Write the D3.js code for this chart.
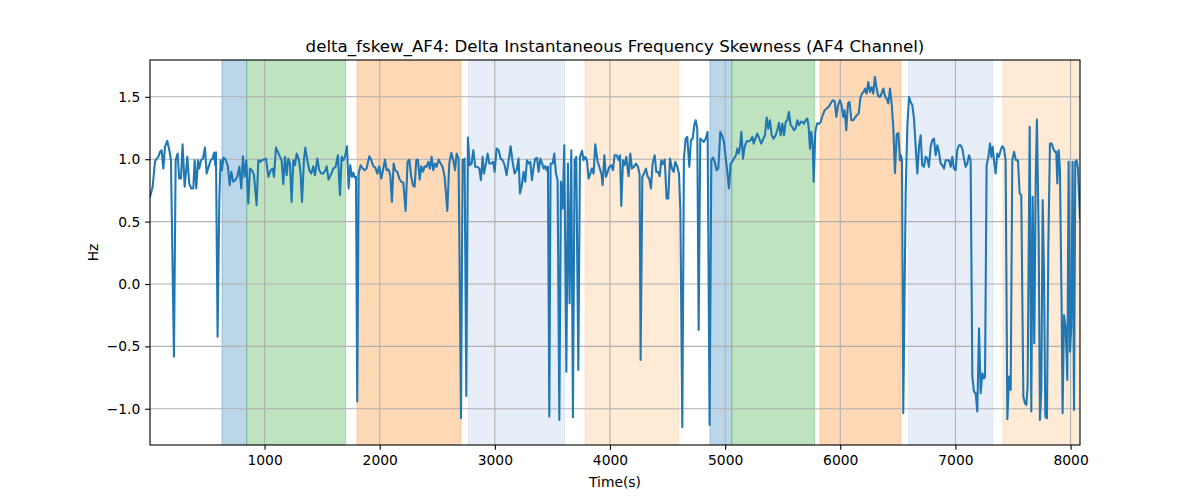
<!DOCTYPE html>
<html><head><meta charset="utf-8">
<script src="https://cdn.jsdelivr.net/npm/d3@7"></script>
<style>body{margin:0;background:#fff} svg{display:block} text{font-family:"DejaVu Sans",sans-serif;fill:#000}</style>
</head><body><svg id="c" width="1200" height="500"></svg>
<script>
const samples = [
[5,0.70],[28,0.779],[48,0.979],[63,1.005],[77,1.019],[92,1.059],[106,1.072],[121,0.925],[135,1.099],[155,1.147],[173,1.072],[187,0.992],[213,-0.582],[228,0.992],[245,1.045],[259,0.845],[274,0.845],[288,1.120],[306,0.779],[329,1.019],[346,0.805],[364,0.765],[381,0.765],[393,0.992],[407,0.765],[422,0.992],[433,0.925],[448,0.992],[465,1.005],[482,1.093],[497,0.885],[514,0.939],[532,0.992],[549,1.005],[561,1.051],[572,0.952],[578,1.056],[592,-0.422],[607,0.672],[618,0.992],[630,0.912],[642,1.013],[665,0.992],[682,0.939],[697,0.792],[711,0.899],[728,0.819],[746,0.832],[763,0.859],[781,0.939],[798,0.765],[812,1.024],[827,0.859],[841,0.992],[859,0.645],[873,0.925],[891,0.912],[908,0.872],[931,0.632],[946,0.992],[960,0.979],[977,0.992],[995,0.997],[1012,1.005],[1033,0.859],[1053,0.912],[1070,0.925],[1082,0.859],[1099,1.093],[1116,1.059],[1134,1.019],[1148,0.992],[1163,0.800],[1177,1.019],[1192,0.872],[1206,1.005],[1221,0.965],[1235,0.658],[1250,0.992],[1264,0.952],[1279,1.045],[1299,0.992],[1313,0.885],[1325,0.658],[1342,0.992],[1354,1.093],[1371,0.992],[1389,0.912],[1406,0.885],[1423,0.944],[1438,0.872],[1458,1.005],[1475,0.912],[1493,0.885],[1510,0.885],[1528,0.912],[1539,0.944],[1556,0.837],[1580,0.885],[1597,0.925],[1617,0.939],
[1637,1.032],[1655,0.712],[1669,1.019],[1684,0.992],[1698,1.019],[1716,1.104],[1730,0.765],[1744,0.952],[1759,0.859],[1771,0.891],[1782,0.853],[1794,0.859],[1805,-0.942],[1817,0.885],[1834,0.952],[1852,0.925],[1869,0.912],[1886,0.925],[1910,1.024],[1927,0.992],[1944,0.944],[1962,0.933],[1979,0.885],[1996,0.944],[2014,0.845],[2028,0.912],[2046,0.997],[2060,0.912],[2077,0.917],[2092,0.872],[2106,0.658],[2121,0.965],[2135,0.912],[2153,0.899],[2170,0.845],[2187,0.819],[2205,0.811],[2225,0.586],[2242,0.979],[2257,0.997],[2274,0.859],[2289,0.792],[2303,0.779],[2318,0.992],[2332,0.997],[2347,0.837],[2361,0.944],[2376,0.899],[2390,0.944],[2407,0.939],[2422,0.979],[2436,0.925],[2451,1.019],[2465,0.912],[2480,0.965],[2494,0.939],[2512,0.997],[2529,0.965],[2546,0.939],[2564,0.859],[2587,0.586],[2604,0.965],[2622,1.051],[2639,0.992],[2654,0.912],[2668,1.045],[2685,1.005],[2706,-1.076],[2720,0.992],[2737,1.005],[2752,-0.897],[2766,1.173],[2781,0.952],[2798,0.965],[2813,1.072],[2830,0.939],[2847,0.939],[2865,0.925],[2879,0.832],[2894,1.019],[2905,0.885],[2923,0.965],[2937,1.045],[2952,0.965],[2969,0.965],[2986,0.979],[2998,0.899],[3015,1.085],[3033,1.072],[3050,1.005],[3068,0.992],[3085,0.952],[3102,0.872],[3120,0.992],[3137,1.104],[3154,0.979],[3172,0.885],[3189,0.912],[3206,1.005],[3218,0.725],[3232,0.779],
[3250,0.899],[3264,0.819],[3279,0.992],[3293,0.965],[3308,0.979],[3322,0.832],[3337,0.939],[3351,1.005],[3366,1.011],[3380,0.899],[3395,1.005],[3409,0.971],[3424,0.925],[3438,0.944],[3450,0.912],[3461,0.939],[3473,-1.062],[3484,0.965],[3502,0.965],[3516,1.045],[3531,0.885],[3545,0.832],[3560,-1.089],[3574,0.819],[3589,0.605],[3603,1.112],[3621,-0.702],[3635,0.965],[3649,-0.155],[3664,1.072],[3678,-1.068],[3693,0.992],[3707,1.019],[3725,-0.689],[3739,1.019],[3757,1.067],[3771,0.992],[3786,1.019],[3800,0.992],[3814,0.845],[3829,0.885],[3843,0.925],[3858,0.885],[3872,1.120],[3890,0.992],[3907,0.939],[3925,0.885],[3936,0.792],[3951,1.032],[3965,0.859],[3980,0.899],[3994,0.939],[4011,0.952],[4026,0.912],[4040,1.032],[4058,1.032],[4075,0.992],[4087,1.032],[4098,0.626],[4113,0.992],[4127,0.952],[4142,1.019],[4153,0.925],[4162,0.864],[4176,1.045],[4191,0.925],[4208,0.939],[4226,0.965],[4243,0.939],[4257,0.880],[4266,-0.609],[4281,0.859],[4295,0.885],[4312,0.925],[4327,0.859],[4341,0.845],[4356,0.765],[4370,0.965],[4388,1.032],[4402,0.899],[4417,0.899],[4431,0.864],[4446,0.992],[4457,0.960],[4475,0.997],[4492,0.685],[4506,0.685],[4521,1.005],[4538,0.925],[4553,0.899],[4567,0.979],[4585,0.939],[4599,0.885],[4611,0.592],[4628,-1.148],[4642,1.005],[4657,1.165],[4671,1.179],[4689,0.939],[4703,1.152],[4718,1.165],[4732,1.272],[4744,1.312],[4758,1.245],[4770,-0.369],[4784,1.165],[4799,1.152],[4816,1.139],[4831,1.165],[4848,1.219],
[4865,-1.129],[4880,0.992],[4894,1.013],[4909,0.979],[4926,0.912],[4941,0.925],[4958,1.219],[4973,1.192],[4990,1.139],[5004,1.019],[5019,0.899],[5033,0.765],[5048,0.965],[5062,0.979],[5077,1.005],[5094,1.032],[5106,1.085],[5117,1.045],[5129,1.099],[5141,1.219],[5155,1.005],[5169,1.099],[5187,1.144],[5204,1.144],[5222,1.152],[5236,1.179],[5248,1.125],[5262,1.165],[5279,1.205],[5297,1.165],[5314,1.125],[5332,1.165],[5346,1.192],[5361,1.334],[5375,1.245],[5389,1.312],[5404,1.192],[5421,1.165],[5439,1.192],[5453,1.232],[5468,1.291],[5482,1.192],[5497,1.285],[5511,1.192],[5526,1.299],[5540,1.312],[5554,1.379],[5569,1.272],[5583,1.259],[5598,1.232],[5612,1.245],[5627,1.312],[5641,1.272],[5656,1.299],[5670,1.299],[5685,1.285],[5699,1.312],[5714,1.326],[5725,1.259],[5737,1.085],[5748,1.219],[5760,1.125],[5769,0.819],[5783,1.219],[5798,1.285],[5815,1.285],[5830,1.299],[5847,1.352],[5864,1.392],[5882,1.406],[5899,1.419],[5916,1.446],[5934,1.472],[5951,1.467],[5966,1.339],[5980,1.432],[5997,1.472],[6012,1.432],[6026,1.339],[6038,1.392],[6052,1.232],[6067,1.446],[6081,1.459],[6096,1.312],[6113,1.312],[6128,1.334],[6142,1.352],[6160,1.366],[6174,1.486],[6188,1.526],[6203,1.539],[6215,1.566],[6229,1.526],[6243,1.619],[6258,1.539],[6272,1.579],[6287,1.526],[6301,1.659],[6316,1.566],[6330,1.504],[6345,1.499],[6359,1.526],[6374,1.566],[6388,1.504],[6403,1.486],[6417,1.446],[6432,1.566],[6446,1.446],
[6460,1.26],[6475,0.89],[6490,1.20],[6504,1.21],[6519,0.99],[6527,1.03],[6536,0.99],[6547,-1.036],
[6568,0.725],[6582,1.259],[6597,1.499],[6611,1.459],[6626,1.432],[6640,1.326],[6655,1.099],[6669,0.885],[6684,1.099],[6698,1.192],[6712,0.952],[6727,0.939],[6741,1.019],[6756,1.005],[6770,0.939],[6785,1.099],[6799,1.152],[6814,1.165],[6828,1.032],[6843,1.112],[6857,1.059],[6872,0.965],[6886,0.952],[6901,0.925],[6915,0.992],[6930,0.992],[6944,0.992],[6959,0.939],[6973,1.019],[6987,0.925],[7002,0.912],[7016,1.072],[7031,1.112],[7045,1.112],[7060,1.085],[7074,1.005],[7089,0.939],[7103,0.965],[7118,1.032],[7132,0.992],[7147,-0.742],[7161,-0.862],[7176,-0.876],[7190,-1.022],[7205,-0.355],[7219,-0.876],[7234,-0.716],[7248,-0.756],[7257,-0.742],[7271,0.952],[7286,1.019],[7300,1.125],[7312,1.019],[7323,1.099],[7335,0.992],[7349,0.885],[7364,1.045],[7378,1.019],[7393,1.072],[7407,1.104],[7422,1.085],[7436,0.992],[7451,-1.084],[7465,-0.742],[7480,-0.849],[7494,0.992],[7509,1.059],[7526,0.992],[7543,0.992],[7558,0.725],[7572,0.712],[7590,-0.902],[7604,-0.956],[7616,-0.969],[7627,-0.822],[7645,1.259],[7659,-1.022],[7671,0.698],[7685,-0.475],[7697,0.832],[7708,1.318],[7723,0.378],[7734,-1.089],[7746,-0.849],[7758,0.672],[7769,0.085],[7781,-1.062],[7795,-1.076],[7807,0.298],[7821,1.125],[7836,1.125],[7850,1.085],[7865,1.059],[7876,1.059],[7885,0.805],[7897,1.072],[7908,0.912],[7923,-0.235],[7931,-1.036],[7943,-0.249],[7957,-0.342],[7972,-0.769],[7983,0.979],[7995,-0.542],[8006,-0.342],[8018,0.979],[8030,-1.009],[8041,0.979],[8053,0.992],[8064,0.925],[8082,0.53]
];
const bandStarts = [630, 845, 1803, 2769, 3783, 4868, 5057, 5824, 6591, 7413];
const bandEnds   = [845, 1704, 2706, 3606, 4596, 5057, 5778, 6527, 7326, 8082];
const bandColors = ["#1f77b4","#2ca02c","#ff7f0e","#aec7e8","#ffbb78","#1f77b4","#2ca02c","#ff7f0e","#aec7e8","#ffbb78"];
const xTicks = [1000,2000,3000,4000,5000,6000,7000,8000];
const yTicks = [-1.0,-0.5,0.0,0.5,1.0,1.5];
const yDomain = [-1.29, 1.795];
const titleText = "delta_fskew_AF4: Delta Instantaneous Frequency Skewness (AF4 Channel)";

const L=150, R=1080, T=60, B=445;
const svg = d3.select("#c");
const x = d3.scaleLinear().domain(d3.extent(samples, d => d[0])).range([L, R]);
const y = d3.scaleLinear().domain(yDomain).range([B, T]);

svg.append("defs").append("clipPath").attr("id","clip")
  .append("rect").attr("x",L).attr("y",T).attr("width",R-L).attr("height",B-T);

const bands = bandStarts.map((s,i)=>({s, e: bandEnds[i], c: bandColors[i]}));
svg.append("g").attr("clip-path","url(#clip)").selectAll("rect").data(bands).join("rect")
  .attr("x", d => x(d.s)).attr("width", d => x(d.e)-x(d.s))
  .attr("y", T).attr("height", B-T)
  .attr("fill", d => d.c).attr("fill-opacity", 0.3)
  .attr("stroke", d => d.c).attr("stroke-opacity", 0.3).attr("stroke-width", 1);

// grid
const grid = svg.append("g").attr("stroke","#b0b0b0").attr("stroke-width",1.1);
grid.selectAll(".gx").data(xTicks).join("line")
  .attr("x1", d => x(d)).attr("x2", d => x(d)).attr("y1", T).attr("y2", B);
grid.selectAll(".gy").data(yTicks).join("line")
  .attr("y1", d => y(d)).attr("y2", d => y(d)).attr("x1", L).attr("x2", R);

// line
svg.append("path").datum(samples).attr("clip-path","url(#clip)")
  .attr("fill","none").attr("stroke","#1f77b4").attr("stroke-width",2.08)
  .attr("stroke-linejoin","round").attr("stroke-linecap","square")
  .attr("d", d3.line().x(d => x(d[0])).y(d => y(d[1])));

// axes
const fmtY = v => (v < 0 ? "\u2212" : "") + Math.abs(v).toFixed(1);
const xAxis = d3.axisBottom(x).tickValues(xTicks).tickSize(4.86).tickPadding(4.86).tickFormat(d3.format("d"));
const yAxis = d3.axisLeft(y).tickValues(yTicks).tickSize(4.86).tickPadding(4.86).tickFormat(fmtY);
const gx = svg.append("g").attr("transform",`translate(0,${B})`).call(xAxis);
const gy = svg.append("g").attr("transform",`translate(${L},0)`).call(yAxis);
[gx, gy].forEach(g => {
  g.select(".domain").remove();
  g.selectAll("line").attr("stroke","#000").attr("stroke-width",1.1);
  g.selectAll("text").attr("font-family","DejaVu Sans, sans-serif").attr("font-size","13.89px").attr("fill","#000");
});

// frame
svg.append("rect").attr("x",L).attr("y",T).attr("width",R-L).attr("height",B-T)
  .attr("fill","none").attr("stroke","#000").attr("stroke-width",1.1);

svg.append("text").attr("x",(L+R)/2).attr("y",52).attr("text-anchor","middle")
  .attr("font-size","16.67px").text(titleText);
svg.append("text").attr("x",(L+R)/2).attr("y",487).attr("text-anchor","middle")
  .attr("font-size","13.89px").text("Time(s)");
svg.append("text").attr("transform",`translate(98,${(T+B)/2}) rotate(-90)`).attr("text-anchor","middle")
  .attr("font-size","13.89px").text("Hz");
</script></body></html>
